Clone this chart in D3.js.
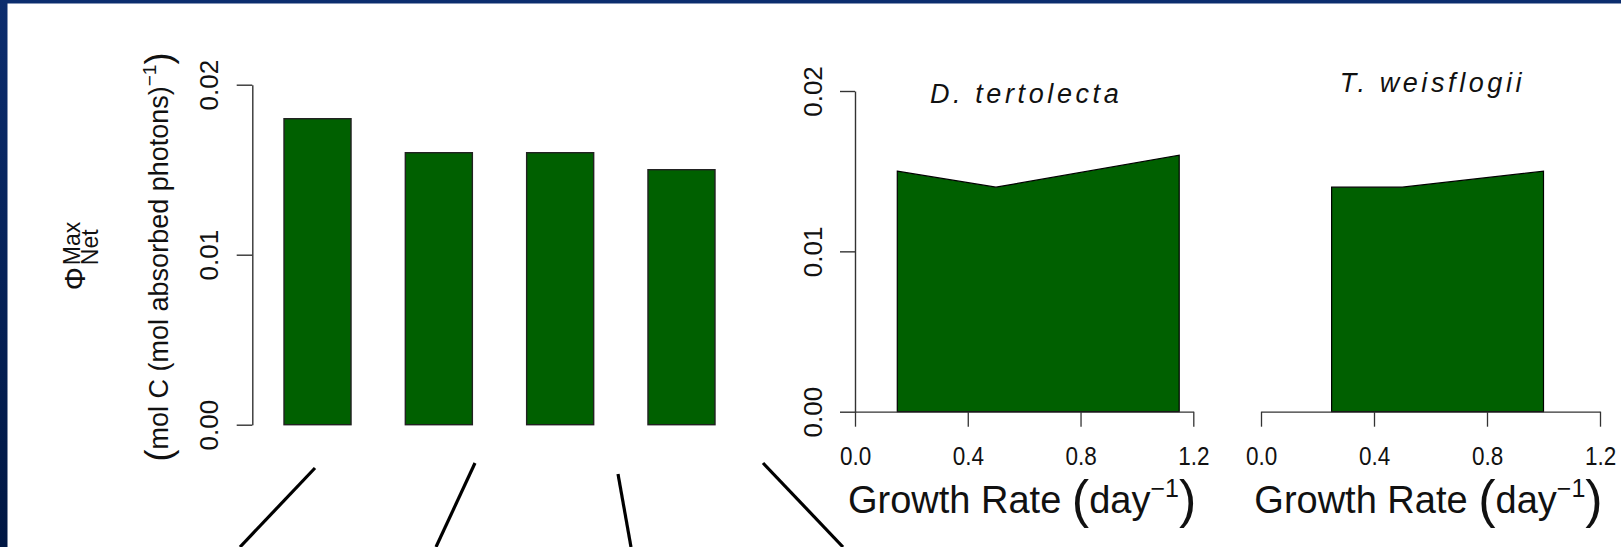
<!DOCTYPE html>
<html><head><meta charset="utf-8">
<script src="https://cdn.jsdelivr.net/npm/d3@7"></script>
<style>html,body{margin:0;padding:0;background:#fff;overflow:hidden}</style>
</head><body>
<svg id="c" width="1621" height="547"></svg>
<script>
// ---------- data ----------
const barCategories = ["Condition 1", "Condition 2", "Condition 3", "Condition 4"];
const barValues = [0.018, 0.016, 0.016, 0.015];
const yTicks = [0, 0.01, 0.02];
const yTickLabels = ["0.00", "0.01", "0.02"];
const xTicks = [0, 0.4, 0.8, 1.2];
const xTickLabels = ["0.0", "0.4", "0.8", "1.2"];
const dtGrowth = [0.15, 0.5, 1.15];
const dtPhi = [0.015, 0.014, 0.016];
const twGrowth = [0.25, 0.5, 1.0];
const twPhi = [0.014, 0.014, 0.015];
const panelTitles = ["D. tertolecta", "T. weisflogii"];
const xTitle = ["Growth Rate ", "day", "\u22121"];

// ---------- style / layout ----------
const FONT = "'Liberation Sans', Arial, Helvetica, sans-serif";
const GREEN = "#006000";
const AX = "#333";
const svg = d3.select("#c");

const defs = svg.append("defs");
const grad = defs.append("linearGradient").attr("id", "navy").attr("x1", 0).attr("y1", 0).attr("x2", 0).attr("y2", 1);
grad.append("stop").attr("offset", "0%").attr("stop-color", "#0c2d6e");
grad.append("stop").attr("offset", "100%").attr("stop-color", "#001743");
svg.append("rect").attr("width", 1621).attr("height", 547).attr("fill", "url(#navy)");
svg.append("rect").attr("x", 7.5).attr("y", 3.5).attr("width", 1621).attr("height", 547).attr("fill", "#fff");

// ---------- left bar chart ----------
const yBar = d3.scaleLinear().domain([0, 0.02]).range([424.7, 84.7]);
const xBar = d3.scaleBand().domain(barCategories).range([284, 715]).paddingInner(0.4475).paddingOuter(0);

const gBar = svg.append("g");
gBar.selectAll("rect.bar").data(barValues).join("rect")
  .attr("class", "bar")
  .attr("x", (d, i) => xBar(barCategories[i]))
  .attr("width", xBar.bandwidth())
  .attr("y", d => yBar(d))
  .attr("height", d => yBar(0) - yBar(d))
  .attr("fill", GREEN).attr("stroke", "#222").attr("stroke-width", 1.4);

function styleYAxis(g, baseOff, fs) {
  g.attr("font-family", FONT).attr("color", AX);
  g.selectAll("path.domain").attr("stroke-width", 1.4);
  g.selectAll(".tick line").attr("stroke-width", 1.4);
  g.selectAll(".tick text")
    .attr("x", null).attr("dy", null)
    .attr("transform", `translate(${baseOff},0) rotate(-90)`)
    .attr("text-anchor", "middle").attr("font-size", fs).attr("fill", "#111");
}
const yAxisBar = svg.append("g").attr("transform", "translate(252.3,0)")
  .call(d3.axisLeft(yBar).tickValues(yTicks).tickSize(15.6).tickSizeOuter(0)
    .tickFormat((d, i) => yTickLabels[i]));
styleYAxis(yAxisBar, -34, 26);

// y title of bar chart
const yTitle = svg.append("g").attr("font-family", FONT).attr("fill", "#111");
{
  const g1 = yTitle.append("g").attr("transform", "translate(85,256) rotate(-90)");
  const inner = g1.append("g");
  const phi = inner.append("text").attr("font-size", 29).text("\u03A6");
  const pw = phi.node().getComputedTextLength();
  const sup = inner.append("text").attr("font-size", 23).attr("x", pw + 2).attr("y", -5).text("Max");
  const sub = inner.append("text").attr("font-size", 23).attr("x", pw + 2).attr("y", 13).text("Net");
  const tw = pw + 2 + Math.max(sup.node().getComputedTextLength(), sub.node().getComputedTextLength());
  inner.attr("transform", `translate(${-tw / 2},0)`);

  const g2 = yTitle.append("g").attr("transform", "translate(168,257) rotate(-90)");
  const t = g2.append("text").attr("text-anchor", "middle").attr("font-size", 27);
  t.append("tspan").attr("font-size", 36).attr("dy", 3).text("(");
  t.append("tspan").attr("dy", -3).text("mol C ");
  t.append("tspan").text("(mol absorbed photons)");
  t.append("tspan").attr("font-size", 19).attr("dy", -12).text("\u22121");
  t.append("tspan").attr("font-size", 36).attr("dy", 15).text(")");
}

// connector lines below bars (annotation)
const connectors = [[315, 468, 240, 547], [475, 463, 436, 547], [618, 474, 631, 547], [763, 463, 843, 547]];
svg.append("g").selectAll("line").data(connectors).join("line")
  .attr("x1", d => d[0]).attr("y1", d => d[1]).attr("x2", d => d[2]).attr("y2", d => d[3])
  .attr("stroke", "#000").attr("stroke-width", 3.2);

// ---------- right panels ----------
const yP = d3.scaleLinear().domain([0, 0.02]).range([411.7, 91]);
const panels = [
  { x0: 855, x1: 1193.3, growth: dtGrowth, phi: dtPhi, title: panelTitles[0], yaxis: true, ty: 103 },
  { x0: 1261, x1: 1600, growth: twGrowth, phi: twPhi, title: panelTitles[1], yaxis: false, ty: 92 }
];
panels.forEach(p => {
  const x = d3.scaleLinear().domain([0, 1.2]).range([p.x0, p.x1]);
  const pts = p.growth.map((g, i) => [g, p.phi[i]]);
  const area = d3.area().x(d => x(d[0])).y0(yP(0)).y1(d => yP(d[1]));
  svg.append("path").datum(pts).attr("d", area(pts) + "Z")
    .attr("fill", GREEN).attr("stroke", "#000").attr("stroke-width", 1.2).attr("stroke-linejoin", "miter");

  const xa = svg.append("g").attr("transform", `translate(0,${yP(0)})`)
    .call(d3.axisBottom(x).tickValues(xTicks).tickSize(15).tickSizeOuter(0)
      .tickFormat((d, i) => xTickLabels[i]));
  xa.attr("font-family", FONT).attr("color", AX);
  xa.selectAll("path.domain").attr("stroke-width", 1.3);
  xa.selectAll(".tick line").attr("stroke-width", 1.3);
  xa.selectAll(".tick text").attr("y", 53.5).attr("dy", null).attr("font-size", 25)
    .attr("transform", "scale(0.9,1)").attr("fill", "#111");

  if (p.yaxis) {
    const ya = svg.append("g").attr("transform", `translate(${p.x0},0)`)
      .call(d3.axisLeft(yP).tickValues(yTicks).tickSize(15).tickSizeOuter(0)
        .tickFormat((d, i) => yTickLabels[i]));
    styleYAxis(ya, -33, 26);
  }

  svg.append("text").attr("x", (p.x0 + p.x1) / 2 + 2).attr("y", p.ty)
    .attr("text-anchor", "middle").attr("font-family", FONT).attr("font-style", "italic")
    .attr("font-size", 27).attr("letter-spacing", "3.6px").attr("fill", "#111").text(p.title);

  const t = svg.append("text").attr("x", (p.x0 + p.x1) / 2 - 2).attr("y", 513)
    .attr("text-anchor", "middle").attr("font-family", FONT).attr("font-size", 38).attr("fill", "#111");
  t.append("tspan").text(xTitle[0]);
  t.append("tspan").attr("font-size", 52).attr("dy", 4).text("(");
  t.append("tspan").attr("dy", -4).text(xTitle[1]);
  t.append("tspan").attr("font-size", 25).attr("dy", -16).text(xTitle[2]);
  t.append("tspan").attr("font-size", 52).attr("dy", 20).text(")");
});
</script>
</body></html>
